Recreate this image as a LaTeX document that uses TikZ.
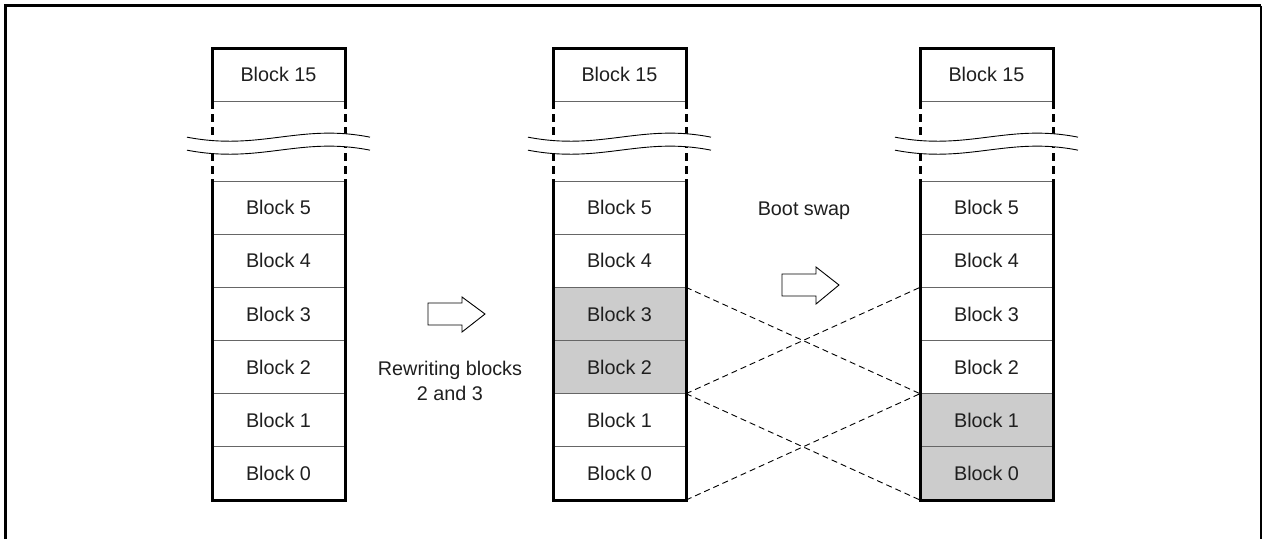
\documentclass[tikz,border=0pt]{standalone}
\usepackage{fontspec}
\setmainfont{Liberation Sans}
\begin{document}
\begin{tikzpicture}[x=1pt,y=-1pt,
  cell/.style={draw=black!60, line width=0.9pt, minimum width=133pt, minimum height=53.17pt, inner sep=0pt, outer sep=0pt, anchor=north west, text=black!88},
  hot/.style={cell, fill=black!20},
  outline/.style={line width=3pt, line cap=rect},
  vdash/.style={line width=3pt, dash pattern=on 8pt off 5pt},
  cross/.style={dashed, line width=0.9pt, dash pattern=on 6pt off 4pt},
  bigarrow/.style={draw=black, line width=0.9pt, fill=white},
  label/.style={text=black!88, align=center, inner sep=0pt}
]
\useasboundingbox (0,0) rectangle (1262,539);
\fontsize{19.8}{24.5}\selectfont
% frame
\draw[line width=3pt] (5.5,539) -- (5.5,5.5) -- (1261,5.5);
\draw[line width=1.4pt] (1261,5.5) -- (1261,539);

% columns
\foreach \c/\x in {a/212, b/553, c/920}{
  \node[cell] (\c15) at (\x,48) {Block 15};
  \node[cell] (\c5) at (\x,181) {Block 5};
  \node[cell] (\c4) at (\c5.south west) {Block 4};
}
\node[cell] (a3) at (a4.south west) {Block 3};
\node[cell] (a2) at (a3.south west) {Block 2};
\node[cell] (a1) at (a2.south west) {Block 1};
\node[cell] (a0) at (a1.south west) {Block 0};
\node[hot] (b3) at (b4.south west) {Block 3};
\node[hot] (b2) at (b3.south west) {Block 2};
\node[cell] (b1) at (b2.south west) {Block 1};
\node[cell] (b0) at (b1.south west) {Block 0};
\node[cell] (c3) at (c4.south west) {Block 3};
\node[cell] (c2) at (c3.south west) {Block 2};
\node[hot] (c1) at (c2.south west) {Block 1};
\node[hot] (c0) at (c1.south west) {Block 0};

\foreach \c in {a,b,c}{
  \draw[outline] (\c15.south west) -- (\c15.north west) -- (\c15.north east) -- (\c15.south east);
  \draw[outline] (\c5.north west) -- (\c0.south west) -- (\c0.south east) -- (\c5.north east);
  \draw[vdash] (\c15.south west) -- (\c5.north west);
  \draw[vdash] (\c15.south east) -- (\c5.north east);
  % break band
  \path (\c15.south west) ++(-25,36) coordinate (\c w1);
  \path (\c15.south east) ++(25,36) coordinate (\c e1);
  \path (\c w1) ++(0,13) coordinate (\c w2);
  \path (\c e1) ++(0,13) coordinate (\c e2);
  \fill[white] (\c w1) .. controls +(73,14) and +(-70,-14) .. (\c e1)
     -- (\c e2) .. controls +(-70,-14) and +(73,14) .. (\c w2) -- cycle;
  \draw[line width=0.9pt] (\c w1) .. controls +(73,14) and +(-70,-14) .. (\c e1);
  \draw[line width=0.9pt] (\c w2) .. controls +(73,14) and +(-70,-14) .. (\c e2);
}

% cross lines
\draw[cross] (b4.south east) -- (c1.north west);
\draw[cross] (b2.south east) -- (c4.south west);
\draw[cross] (b1.north east) -- (c0.south west);
\draw[cross] (b0.south east) -- (c1.north west);

% arrows
\coordinate (ar1) at (428,314);
\draw[bigarrow] (ar1) ++(0,-11) -- ++(34,0) -- ++(0,-6) -- ++(23,17) -- ++(-23,18) -- ++(0,-7) -- ++(-34,0) -- cycle;
\coordinate (ar2) at (782,285);
\draw[bigarrow] (ar2) ++(0,-11) -- ++(34,0) -- ++(0,-7) -- ++(23,18) -- ++(-23,19) -- ++(0,-8) -- ++(-34,0) -- cycle;

\node[label] (t1) at (450,381) {Rewriting blocks\\2 and 3};
\node[label] (t2) at (804,211) {Boot swap};
\end{tikzpicture}
\end{document}
